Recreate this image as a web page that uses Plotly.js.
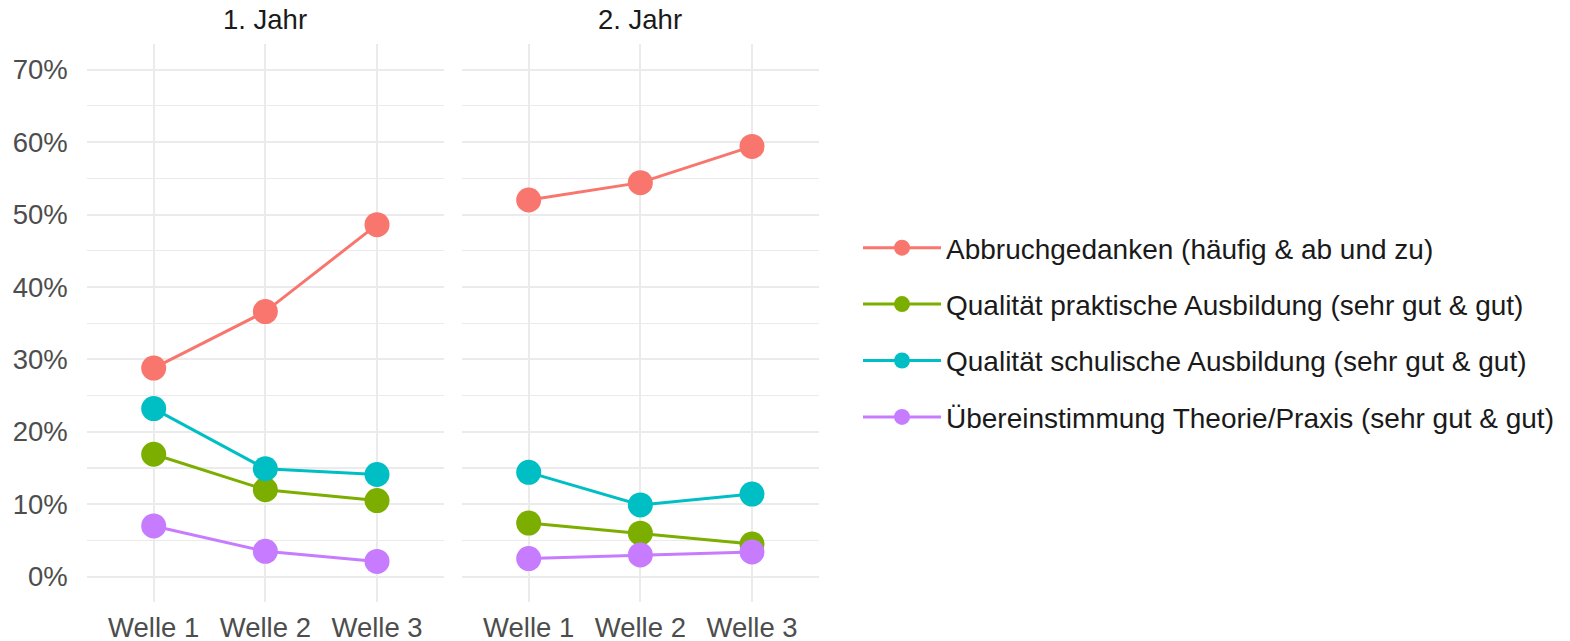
<!DOCTYPE html>
<html><head><meta charset="utf-8">
<script src="https://cdn.plot.ly/plotly-3.0.1.min.js"></script>
<style>html,body{margin:0;padding:0;background:#fff}</style>
</head><body>
<div id="chart" style="width:1570px;height:641px"></div>
<script>
const waves = ["Welle 1", "Welle 2", "Welle 3"];
const panels = ["1. Jahr", "2. Jahr"];
const seriesNames = [
  "Abbruchgedanken (häufig & ab und zu)",
  "Qualität praktische Ausbildung (sehr gut & gut)",
  "Qualität schulische Ausbildung (sehr gut & gut)",
  "Übereinstimmung Theorie/Praxis (sehr gut & gut)"
];
const colors = ["#F8766D", "#7CAE00", "#00BFC4", "#C77CFF"];
// values per panel (1. Jahr, 2. Jahr), order of seriesNames
const jahr1 = [
  [0.288, 0.366, 0.486],
  [0.169, 0.120, 0.105],
  [0.232, 0.149, 0.141],
  [0.070, 0.035, 0.021]
];
const jahr2 = [
  [0.520, 0.544, 0.594],
  [0.074, 0.060, 0.045],
  [0.144, 0.099, 0.114],
  [0.025, 0.030, 0.034]
];
const yTicks = [0, 0.1, 0.2, 0.3, 0.4, 0.5, 0.6, 0.7];

const W = 1570, H = 641;
const FONT = "Arial, 'Liberation Sans', sans-serif";
const FS = 27.5;
const traces = [];
[jahr1, jahr2].forEach((data, p) => {
  data.forEach((vals, i) => {
    traces.push({
      x: waves, y: vals, type: "scatter", mode: "lines+markers",
      name: seriesNames[i], legendgroup: "g" + i, showlegend: p === 0,
      xaxis: p === 0 ? "x" : "x2", yaxis: p === 0 ? "y" : "y2",
      line: {color: colors[i], width: 3},
      marker: {color: colors[i], size: 25},
      hoverinfo: "skip"
    });
  });
});

const xd1 = [86.7 / W, 444 / W], xd2 = [461.7 / W, 819 / W];
const yd = [1 - 602 / H, 1 - 44.3 / H];
const xbase = {
  type: "category", range: [-0.6, 2.6], showgrid: true, gridcolor: "#ebebeb", gridwidth: 2,
  zeroline: false, showline: false, ticks: "", tickfont: {family: FONT, size: FS, color: "#4d4d4d"},
  ticklabelstandoff: 6, fixedrange: true, automargin: false
};
const ybase = {
  range: [-0.035, 0.735], tickvals: yTicks, tickformat: ".0%", showgrid: true, gridcolor: "#ebebeb", gridwidth: 2,
  minor: {dtick: 0.05, tick0: 0.05, showgrid: true, gridcolor: "#ebebeb", gridwidth: 1.2},
  zeroline: false, showline: false, ticks: "", tickfont: {family: FONT, size: FS, color: "#4d4d4d"},
  ticklabelstandoff: 18, fixedrange: true, automargin: false, domain: yd
};
const layout = {
  width: W, height: H, margin: {l: 0, r: 0, t: 0, b: 0},
  paper_bgcolor: "#fff", plot_bgcolor: "#fff",
  font: {family: FONT, color: "#1a1a1a"},
  xaxis: Object.assign({}, xbase, {domain: xd1, anchor: "y"}),
  xaxis2: Object.assign({}, xbase, {domain: xd2, anchor: "y2"}),
  yaxis: Object.assign({}, ybase, {anchor: "x"}),
  yaxis2: Object.assign({}, ybase, {anchor: "x2", showticklabels: false}),
  showlegend: true,
  legend: {
    x: 858 / W, y: 1 - 223 / H, xanchor: "left", yanchor: "top",
    font: {family: FONT, size: 28, color: "#1a1a1a"},
    tracegroupgap: 17, itemwidth: 78, bgcolor: "rgba(0,0,0,0)", borderwidth: 0
  },
  annotations: panels.map((t, k) => ({
    text: t, xref: "paper", yref: "paper",
    x: (k === 0 ? (xd1[0] + xd1[1]) / 2 : (xd2[0] + xd2[1]) / 2), y: 1 - 20 / H,
    xanchor: "center", yanchor: "middle", showarrow: false,
    font: {family: FONT, size: FS, color: "#1a1a1a"}
  }))
};
Plotly.newPlot("chart", traces, layout, {displayModeBar: false, staticPlot: true});
</script>
</body></html>
